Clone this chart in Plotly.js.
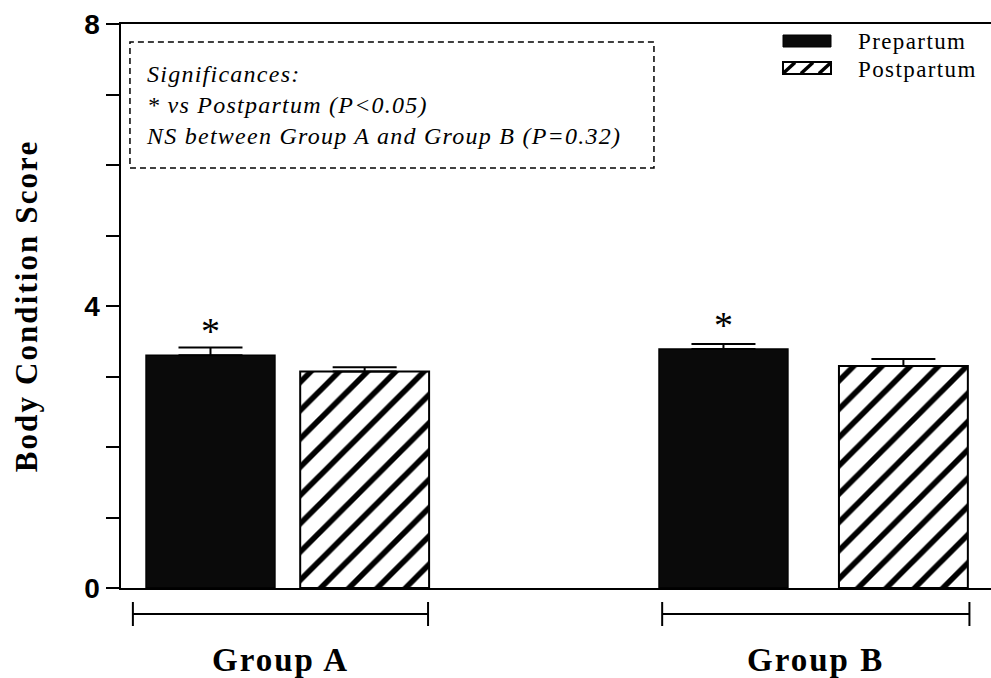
<!DOCTYPE html>
<html>
<head>
<meta charset="utf-8">
<script src="https://cdn.plot.ly/plotly-3.0.1.min.js"></script>
<style>
html, body { margin: 0; padding: 0; background: #fff; }
#chart { width: 991px; height: 678px; }
</style>
</head>
<body>
<div id="chart"></div>
<script>
// ---- data ----
const groups = ['Group A', 'Group B'];
const seriesNames = ['Prepartum', 'Postpartum'];
const prepartum = [3.30, 3.39];
const prepartumSE = [0.11, 0.07];
const postpartum = [3.07, 3.15];
const postpartumSE = [0.06, 0.10];
const sigPre = ['*', '*'];
const sigPost = ['', ''];
const yTickVals = [0, 1, 2, 3, 4, 5, 6, 7, 8];
const yTickText = ['0', '', '', '', '4', '', '', '', '8'];
const noteLines = [
  'Significances:',
  '* vs Postpartum (P<0.05)',
  'NS between Group A and Group B (P=0.32)'
];

// ---- style / layout constants ----
const SERIF = '"Liberation Serif", "Times New Roman", serif';
const SANS = '"Liberation Sans", Arial, sans-serif';
const sp = (t, s) => '<span style="letter-spacing:' + s + 'px">' + t + '</span>';
const BAR_W = 0.245;
const PRE_OFFSET = [-0.268, -0.293];
const POST_OFFSET = [0.025, 0.049];
const BRACKETS = [[-0.293, 0.268], [-0.287, 0.297]];
// plot-area pixel frame (for placing legend decorations in paper units)
const PL = 121, PW = 870, PT = 24, PH = 564;
const px = v => (v - PL) / PW;
const py = v => (PT + PH - v) / PH;

const traces = [
  {
    type: 'bar', name: seriesNames[0], x: groups, y: prepartum,
    width: BAR_W, offset: PRE_OFFSET,
    marker: { color: '#0a0a0a', line: { color: '#000', width: 1.5 } },
    error_y: { type: 'data', symmetric: false, array: prepartumSE, arrayminus: [0, 0],
               color: '#000', thickness: 2, width: 32 },
    text: sigPre, textposition: 'outside', cliponaxis: false,
    textfont: { family: SERIF, size: 38, color: '#000' }
  },
  {
    type: 'bar', name: seriesNames[1], x: groups, y: postpartum,
    width: BAR_W, offset: POST_OFFSET,
    marker: { color: '#fff', line: { color: '#000', width: 2 },
              pattern: { shape: '/', fgcolor: '#000', bgcolor: '#fff', size: 20, solidity: 0.28 } },
    error_y: { type: 'data', symmetric: false, array: postpartumSE, arrayminus: [0, 0],
               color: '#000', thickness: 2, width: 32 },
    text: sigPost, textposition: 'outside', cliponaxis: false,
    textfont: { family: SERIF, size: 38, color: '#000' }
  }
];

const shapes = [
  // dashed note box
  { type: 'rect', xref: 'paper', yref: 'paper', x0: 0.0103, x1: 0.6126, y0: 0.7447, y1: 0.968,
    line: { color: '#000', width: 1.5, dash: '6px,4px' }, fillcolor: 'rgba(0,0,0,0)' },
  // legend swatches
  { type: 'rect', xref: 'paper', yref: 'paper', x0: px(783), x1: px(831), y0: py(47), y1: py(35),
    line: { color: '#000', width: 1 }, fillcolor: '#0a0a0a' },
  { type: 'rect', xref: 'paper', yref: 'paper', x0: px(783), x1: px(831), y0: py(74), y1: py(62),
    line: { color: '#000', width: 2 }, fillcolor: '#fff' }
];
[[783, 795], [801, 813], [819, 831]].forEach(([a, b]) => {
  shapes.push({ type: 'line', xref: 'paper', yref: 'paper', x0: px(a), x1: px(b), y0: py(73.5), y1: py(62.5),
                line: { color: '#000', width: 3.5 } });
});

const annotations = [];
seriesNames.forEach((n, i) => {
  annotations.push({ xref: 'paper', yref: 'paper', x: px(856), y: py(i === 0 ? 42 : 70),
    xanchor: 'left', yanchor: 'middle', showarrow: false, text: sp(n, 1.4),
    font: { family: SERIF, size: 23, color: '#000' } });
});
groups.forEach((g, i) => {
  const a = i + BRACKETS[i][0], b = i + BRACKETS[i][1];
  shapes.push({ type: 'line', xref: 'x', yref: 'paper', x0: a, x1: b, y0: -0.0461, y1: -0.0461, line: { color: '#000', width: 2 } });
  shapes.push({ type: 'line', xref: 'x', yref: 'paper', x0: a, x1: a, y0: -0.0248, y1: -0.0674, line: { color: '#000', width: 2 } });
  shapes.push({ type: 'line', xref: 'x', yref: 'paper', x0: b, x1: b, y0: -0.0248, y1: -0.0674, line: { color: '#000', width: 2 } });
  annotations.push({ xref: 'x', yref: 'paper', x: (a + b) / 2, y: -0.128, text: sp('<b>' + g + '</b>', 2),
    showarrow: false, xanchor: 'center', yanchor: 'middle',
    font: { family: SERIF, size: 33, color: '#000' } });
});
annotations.push({
  xref: 'paper', yref: 'paper', x: 0.027, y: 0.857, xanchor: 'left', yanchor: 'middle', align: 'left',
  showarrow: false, text: noteLines.map(t => sp('<i>' + t + '</i>', 1.25)).join('<br>'),
  font: { family: SERIF, size: 24, color: '#000' }
});

const layout = {
  width: 991, height: 678,
  margin: { l: PL, r: 0, t: PT, b: 90 },
  paper_bgcolor: '#fff', plot_bgcolor: '#fff',
  barmode: 'group',
  showlegend: false,
  xaxis: { range: [-0.3156, 1.338], showticklabels: false, ticks: '', showgrid: false, zeroline: false,
           showline: true, linecolor: '#000', linewidth: 2, mirror: true, fixedrange: true },
  yaxis: { range: [0, 8], tickmode: 'array', tickvals: yTickVals, ticktext: yTickText,
           ticks: 'outside', ticklen: 13, tickwidth: 2, tickcolor: '#000',
           showline: true, linecolor: '#000', linewidth: 2.5, showgrid: false, zeroline: false,
           tickfont: { family: SANS, size: 28, color: '#000', weight: 'bold' },
           title: { text: sp('<b>Body Condition Score</b>', 2.1), standoff: 38,
                    font: { family: SERIF, size: 31, color: '#000' } },
           automargin: false, fixedrange: true },
  shapes: shapes, annotations: annotations
};

Plotly.newPlot('chart', traces, layout, { displayModeBar: false, staticPlot: true });
</script>
</body>
</html>
